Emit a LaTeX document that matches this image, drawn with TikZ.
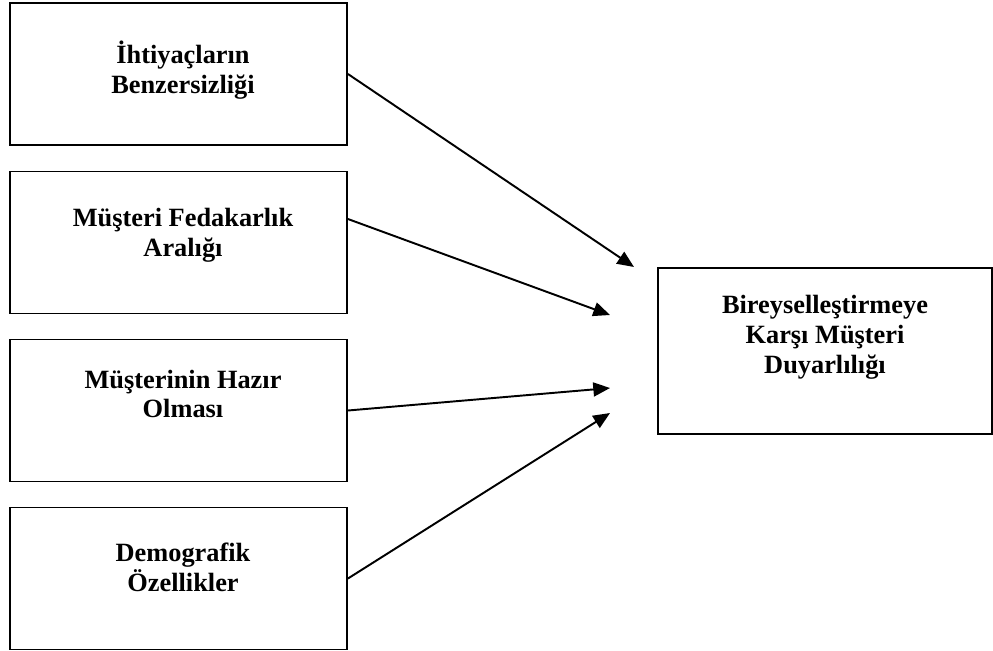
\documentclass[tikz,border=0pt]{standalone}
\usepackage{fontspec}
\setmainfont{Liberation Serif}
\usetikzlibrary{shapes,arrows.meta}
\tikzstyle{kutu}=[rectangle,draw=black,line width=1.1pt,minimum width=6.74cm,minimum height=2.84cm,inner sep=0pt]
\tikzstyle{yazi}=[align=center,font=\bfseries\fontsize{15}{17}\selectfont,inner sep=0pt]
\tikzstyle{ok}=[line width=1.1pt,-{Triangle[length=9.5pt,width=8pt]}]

\begin{document}
\begin{tikzpicture}[x=0.02cm,y=-0.02cm]
\useasboundingbox (0,0) rectangle (993,650);
\node[kutu] (b1) at (178.5,74) {};
\node[kutu] (b2) at (178.5,242.5) {};
\node[kutu] (b3) at (178.5,410.5) {};
\node[kutu] (b4) at (178.5,578.5) {};
\node[kutu,minimum width=6.68cm,minimum height=3.32cm] (sonuc) at (825,351) {};
\node[yazi] (t1) at (183,70) {İhtiyaçların\\Benzersizliği};
\node[yazi] (t2) at (183,235) {Müşteri Fedakarlık\\Aralığı};
\node[yazi] (t3) at (183,394) {Müşterinin Hazır\\Olması};
\node[yazi] (t4) at (183,567) {Demografik\\Özellikler};
\node[yazi] (t5) at (825,337) {Bireyselleştirmeye\\Karşı Müşteri\\Duyarlılığı};
\coordinate (u1) at (634,267);
\coordinate (u2) at (610,315);
\coordinate (u3) at (610,388);
\coordinate (u4) at (610,413);
\draw[ok] (b1.east) -- (u1);
\draw[ok] ([yshift=0.47cm]b2.east) -- (u2);
\draw[ok] (b3.east) -- (u3);
\draw[ok] (b4.east) -- (u4);
\end{tikzpicture}
\end{document}
